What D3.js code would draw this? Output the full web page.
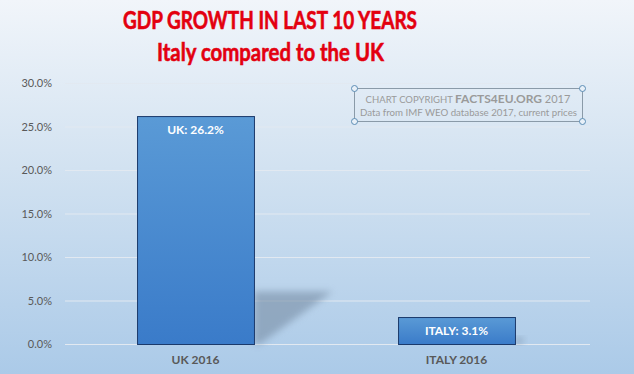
<!DOCTYPE html>
<html>
<head>
<meta charset="utf-8">
<script src="https://cdn.jsdelivr.net/npm/d3@7"></script>
<style>
  body { margin: 0; padding: 0; overflow: hidden; }
  svg { display: block; font-family: Lato, "Open Sans", sans-serif; }
</style>
</head>
<body>
<div id="chart"></div>
<script>
// data
const categories = ["UK 2016", "ITALY 2016"];
const values = [26.2, 3.1];
const barLabels = ["UK: 26.2%", "ITALY: 3.1%"];
const yTicks = [0, 5, 10, 15, 20, 25, 30];

const W = 634, H = 374;
const plot = { left: 65, right: 587, top: 83, bottom: 344 };

const svg = d3.select("#chart").append("svg")
    .attr("width", W)
    .attr("height", H);

const defs = svg.append("defs");

// background gradient
const bg = defs.append("linearGradient").attr("id", "bg")
    .attr("x1", 0).attr("y1", 0).attr("x2", 0).attr("y2", 1);
bg.append("stop").attr("offset", "0%").attr("stop-color", "#f1f5fa");
bg.append("stop").attr("offset", "45%").attr("stop-color", "#d2e2f1");
bg.append("stop").attr("offset", "100%").attr("stop-color", "#abcae8");

const barGrad = defs.append("linearGradient").attr("id", "barGrad")
    .attr("x1", 0).attr("y1", 0).attr("x2", 0).attr("y2", 1);
barGrad.append("stop").attr("offset", "0%").attr("stop-color", "#5a9ad6");
barGrad.append("stop").attr("offset", "100%").attr("stop-color", "#3a7bc9");

const blur = defs.append("filter").attr("id", "blur")
    .attr("x", "-30%").attr("y", "-30%").attr("width", "160%").attr("height", "160%");
blur.append("feGaussianBlur").attr("stdDeviation", 3.5);

svg.append("rect")
    .attr("width", W).attr("height", H)
    .attr("fill", "url(#bg)");

// titles (Calibri-like narrow width)
svg.append("text")
    .attr("x", 123).attr("y", 29)
    .attr("font-size", "25px")
    .attr("font-weight", "bold")
    .attr("fill", "#e3000f")
    .attr("stroke", "#e3000f")
    .attr("stroke-width", 0.6)
    .attr("textLength", 294)
    .attr("lengthAdjust", "spacingAndGlyphs")
    .text("GDP GROWTH IN LAST 10 YEARS");

svg.append("text")
    .attr("x", 157).attr("y", 61)
    .attr("font-size", "25px")
    .attr("font-weight", "bold")
    .attr("fill", "#e3000f")
    .attr("stroke", "#e3000f")
    .attr("stroke-width", 0.6)
    .attr("textLength", 227)
    .attr("lengthAdjust", "spacingAndGlyphs")
    .text("Italy compared to the UK");

// scales
const x = d3.scaleBand()
    .domain(categories)
    .range([plot.left, plot.right])
    .paddingInner(0.552)
    .paddingOuter(0.276);

const y = d3.scaleLinear()
    .domain([0, 30])
    .range([plot.bottom, plot.top]);

// gridlines
svg.append("g")
    .selectAll("line")
    .data(yTicks)
    .join("line")
    .attr("x1", plot.left).attr("x2", plot.right + 3)
    .attr("y1", d => y(d) + 0.5).attr("y2", d => y(d) + 0.5)
    .attr("stroke", "#e2e9f1")
    .attr("stroke-width", 1);

// y axis labels
const yAxis = svg.append("g")
    .attr("transform", `translate(${plot.left - 10},0)`)
    .call(d3.axisLeft(y).tickValues(yTicks).tickSize(0).tickFormat(d => d.toFixed(1) + "%"));
yAxis.select(".domain").remove();
yAxis.selectAll("text")
    .attr("font-family", "Lato, sans-serif")
    .attr("font-size", "11px")
    .attr("fill", "#595959");

// shadows
svg.append("g")
    .selectAll("path")
    .data(values)
    .join("path")
    .attr("filter", "url(#blur)")
    .attr("fill", "#7d93aa")
    .attr("opacity", 0.65)
    .attr("d", (d, i) => {
        const bx = x(categories[i]) + x.bandwidth();
        const h = (y(0) - y(d)) * 0.23;
        const top = y(0) - h;
        return `M${bx},${top} L${bx + h * 1.5},${top} L${bx + 6},${y(0)} L${bx},${y(0)} Z`;
    });

// bars
svg.append("g")
    .selectAll("rect")
    .data(values)
    .join("rect")
    .attr("x", (d, i) => x(categories[i]) + 0.5)
    .attr("y", d => y(d) + 0.5)
    .attr("width", x.bandwidth())
    .attr("height", d => y(0) - y(d))
    .attr("fill", "url(#barGrad)")
    .attr("stroke", "#1b3a6b")
    .attr("stroke-width", 1);

// bar labels
svg.append("g")
    .selectAll("text")
    .data(values)
    .join("text")
    .attr("x", (d, i) => x(categories[i]) + x.bandwidth() / 2)
    .attr("y", d => y(d) + 18)
    .attr("text-anchor", "middle")
    .attr("font-size", "12px")
    .attr("font-weight", "bold")
    .attr("fill", "#ffffff")
    .text((d, i) => barLabels[i]);

// x axis labels
svg.append("g")
    .selectAll("text")
    .data(categories)
    .join("text")
    .attr("x", d => x(d) + x.bandwidth() / 2)
    .attr("y", plot.bottom + 20)
    .attr("text-anchor", "middle")
    .attr("font-size", "12px")
    .attr("font-weight", "bold")
    .attr("fill", "#595959")
    .text(d => d);

// copyright box
const box = { x: 354, y: 88, w: 228, h: 33 };
const note = svg.append("g");
note.append("rect")
    .attr("x", box.x + 0.5).attr("y", box.y + 0.5)
    .attr("width", box.w).attr("height", box.h)
    .attr("fill", "none")
    .attr("stroke", "#8a9aa8")
    .attr("stroke-width", 1);
[[0, 0], [1, 0], [0, 1], [1, 1]].forEach(([a, b]) => {
    note.append("circle")
        .attr("cx", box.x + 0.5 + a * box.w)
        .attr("cy", box.y + 0.5 + b * box.h)
        .attr("r", 3)
        .attr("fill", "#e8f0f8")
        .attr("stroke", "#5c8db5")
        .attr("stroke-width", 1);
});
const t1 = note.append("text")
    .attr("x", box.x + box.w / 2).attr("y", box.y + 15)
    .attr("text-anchor", "middle")
    .attr("font-size", "9.5px")
    .attr("fill", "#9a9a9a");
t1.append("tspan").text("CHART COPYRIGHT ");
t1.append("tspan").attr("font-size", "12px").attr("font-weight", "bold").text("FACTS4EU.ORG");
t1.append("tspan").attr("font-size", "11px").text(" 2017");
note.append("text")
    .attr("x", box.x + 6).attr("y", box.y + 28)
    .attr("font-size", "10px")
    .attr("fill", "#9a9a9a")
    .attr("textLength", 217)
    .attr("lengthAdjust", "spacingAndGlyphs")
    .text("Data from IMF WEO database 2017, current prices");
</script>
</body>
</html>
